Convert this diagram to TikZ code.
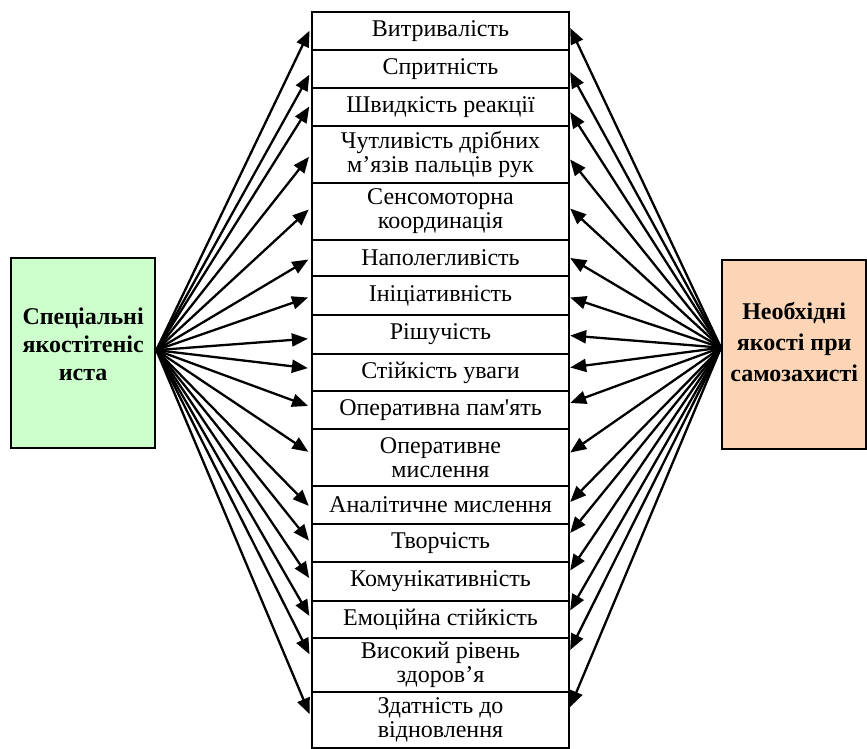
\documentclass[tikz,border=0pt]{standalone}
\usepackage{fontspec}
\setmainfont{Liberation Serif}
\usetikzlibrary{arrows.meta}
\definecolor{lgreen}{HTML}{CCFFCC}
\definecolor{peach}{HTML}{FBD5B5}
\begin{document}
\begin{tikzpicture}[x=1pt,y=-1pt,
  rowbox/.style={draw,line width=2.3pt,minimum width=257pt,inner sep=0pt,align=center,
    font=\fontsize{24}{24}\selectfont},
  sidebox/.style={draw,line width=2.3pt,inner sep=0pt,anchor=north west},
  sidetext/.style={align=center,font=\fontsize{24}{28}\selectfont\bfseries},
  arr/.style={line width=2.3pt,-{Triangle[length=16pt,width=13pt]}}
]
\useasboundingbox (0,0) rectangle (867,749);

% side boxes
\node[sidebox,fill=lgreen,minimum width=144pt,minimum height=190pt] (sp) at (10,257) {};
\node[sidetext] (spt) at ([yshift=9pt]sp.center) {Спеціальні\\якостітеніс\\иста};
\node[sidebox,fill=peach,minimum width=144pt,minimum height=189pt] (nq) at (721,259) {};
\node[sidetext,font=\fontsize{24}{31}\selectfont\bfseries] (nqt) at ([yshift=13pt]nq.center) {Необхідні\\якості при\\самозахисті};

\coordinate (L) at ([yshift=3pt]sp.east);
\coordinate (R) at ([yshift=7pt]nq.west);

% central column
\foreach \n/\t/\b/\txt in {
  1/12/50/{Витривалість},
  2/50/88/{Спритність},
  3/88/126/{Швидкість реакції},
  4/126/183/{Чутливість дрібних\\м’язів пальців рук},
  5/183/240/{Сенсомоторна\\координація},
  6/240/276/{Наполегливість},
  7/276/315/{Ініціативність},
  8/315/354/{Рішучість},
  9/354/391/{Стійкість уваги},
  10/391/429/{Оперативна пам\textquotesingle ять},
  11/429/486/{Оперативне\\мислення},
  12/486/524/{Аналітичне мислення},
  13/524/562/{Творчість},
  14/562/601/{Комунікативність},
  15/601/638/{Емоційна стійкість},
  16/638/692/{Високий рівень\\здоров’я},
  17/692/748/{Здатність до\\відновлення}} {
  \pgfmathsetmacro\h{\b-\t}
  \pgfmathsetmacro\c{(\t+\b)/2}
  \node[rowbox,minimum height=\h pt] (r\n) at (440.5,\c) {\txt};
}

% arrows
\foreach \n/\ls/\rs in {1/3/3, 2/-3/-3, 3/3/-5, 4/0/-5, 5/4/3, 6/0/0, 7/-1/-2,
  8/-4/-1, 9/4/5, 10/3/7, 11/4/5, 12/-3/3, 13/0/10, 14/1/11, 15/1/9, 16/8/15, 17/3/13} {
  \draw[arr,shorten >=3pt] (L) -- ([yshift=\ls pt]r\n.west);
  \draw[arr] (R) -- ([yshift=\rs pt]r\n.east);
}
\end{tikzpicture}
\end{document}
